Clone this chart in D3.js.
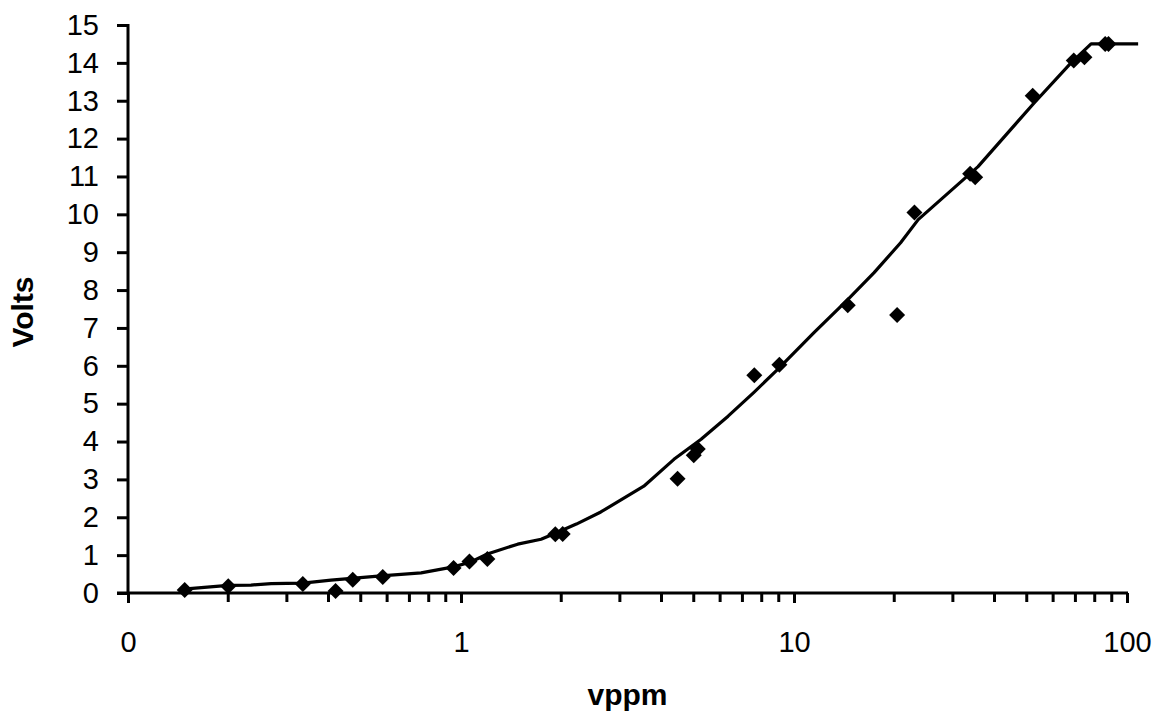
<!DOCTYPE html>
<html>
<head>
<meta charset="utf-8">
<script src="https://cdn.jsdelivr.net/npm/d3@7"></script>
<style>
  body { margin: 0; background: #fff; }
  svg text { font-family: "Liberation Sans", Arial, sans-serif; fill: #000; }
</style>
</head>
<body>
<svg id="chart" width="1162" height="719"></svg>
<script>
  // ---------------- Data ----------------
  const pointVppm = [0.148, 0.2, 0.335, 0.42, 0.473, 0.582, 0.95, 1.06, 1.2, 1.92, 2.02,
    4.47, 5.0, 5.14, 7.6, 9.04, 14.5, 20.4, 23.0, 33.8, 35.0, 52.1, 69.2, 74.5, 86, 88];
  const pointVolts = [0.08, 0.18, 0.24, 0.05, 0.35, 0.42, 0.66, 0.83, 0.9, 1.55, 1.56,
    3.02, 3.64, 3.8, 5.75, 6.03, 7.6, 7.34, 10.05, 11.07, 10.98, 13.13, 14.06, 14.15, 14.5, 14.5];

  const lineVppm = [0.147, 0.166, 0.2, 0.234, 0.269, 0.335, 0.407, 0.575, 0.759, 0.95, 1.07,
    1.2, 1.48, 1.74, 1.92, 2.22, 2.63, 3.54, 4.36, 5.26, 6.34, 7.58, 8.95, 11.5, 14.5,
    17.4, 20.9, 23.6, 35.7, 52.6, 67.9, 78, 108];
  const lineVolts = [0.1, 0.14, 0.2, 0.21, 0.25, 0.26, 0.34, 0.45, 0.53, 0.69, 0.82,
    1.03, 1.29, 1.42, 1.58, 1.82, 2.14, 2.82, 3.53, 4.06, 4.67, 5.3, 5.91, 6.88, 7.75,
    8.46, 9.25, 9.86, 11.26, 12.94, 14.0, 14.5, 14.5];

  const xMajor = [0.1, 1, 10, 100];
  const xMajorLabels = ["0", "1", "10", "100"];
  const xMinor = [0.2, 0.3, 0.4, 0.5, 0.6, 0.7, 0.8, 0.9, 2, 3, 4, 5, 6, 7, 8, 9,
    20, 30, 40, 50, 60, 70, 80, 90];
  const yTicks = d3.range(0, 16);

  const svg = d3.select("#chart");
  const width = 1162, height = 719;
  const margin = { top: 25, right: 35, bottom: 126, left: 128 };

  const x = d3.scaleLog().domain([0.1, 100]).range([margin.left, width - margin.right]);
  const y = d3.scaleLinear().domain([0, 15]).range([height - margin.bottom, margin.top]);

  const axisStroke = 3;
  const fontSize = 29;

  // Y axis
  const gy = svg.append("g")
    .attr("transform", `translate(${margin.left},0)`)
    .call(d3.axisLeft(y).tickValues(yTicks).tickSize(11).tickPadding(18).tickFormat(d3.format("d")));
  gy.attr("font-family", null).attr("font-size", fontSize);
  gy.select(".domain").attr("stroke-width", axisStroke).attr("d", `M0,${y(15) - 1}V${y(0) + 1}`);
  gy.selectAll(".tick line").attr("stroke-width", axisStroke);

  // X axis (major)
  const gx = svg.append("g")
    .attr("transform", `translate(0,${y(0)})`)
    .call(d3.axisBottom(x).tickValues(xMajor).tickSize(10).tickPadding(28)
      .tickFormat((d, i) => xMajorLabels[i]));
  gx.attr("font-family", null).attr("font-size", fontSize);
  gx.select(".domain").attr("stroke-width", axisStroke)
    .attr("d", `M${margin.left - 11},0H${x(100) + 1}`);
  gx.selectAll(".tick line").attr("stroke-width", axisStroke);

  // X axis (minor)
  svg.append("g")
    .attr("transform", `translate(0,${y(0)})`)
    .selectAll("line")
    .data(xMinor)
    .join("line")
    .attr("x1", d => x(d)).attr("x2", d => x(d))
    .attr("y1", 0).attr("y2", 9)
    .attr("stroke", "#000").attr("stroke-width", axisStroke);

  // Line
  const lineData = lineVppm.map((v, i) => [v, lineVolts[i]]);
  svg.append("path")
    .datum(lineData)
    .attr("fill", "none")
    .attr("stroke", "#000")
    .attr("stroke-width", 3.2)
    .attr("stroke-linejoin", "round")
    .attr("d", d3.line().x(d => x(d[0])).y(d => y(d[1])));

  // Points
  const points = pointVppm.map((v, i) => [v, pointVolts[i]]);
  svg.append("g")
    .selectAll("path")
    .data(points)
    .join("path")
    .attr("d", d3.symbol(d3.symbolSquare, 128))
    .attr("transform", d => `translate(${x(d[0])},${y(d[1])}) rotate(45)`)
    .attr("fill", "#000");

  // Axis titles
  svg.append("text")
    .attr("x", (x(0.1) + x(100)) / 2)
    .attr("y", 705)
    .attr("text-anchor", "middle")
    .attr("font-size", 30)
    .attr("font-weight", "bold")
    .text("vppm");

  svg.append("text")
    .attr("transform", `translate(33,${(y(0) + y(15)) / 2 + 3}) rotate(-90)`)
    .attr("text-anchor", "middle")
    .attr("font-size", 30)
    .attr("font-weight", "bold")
    .text("Volts");
</script>
</body>
</html>
